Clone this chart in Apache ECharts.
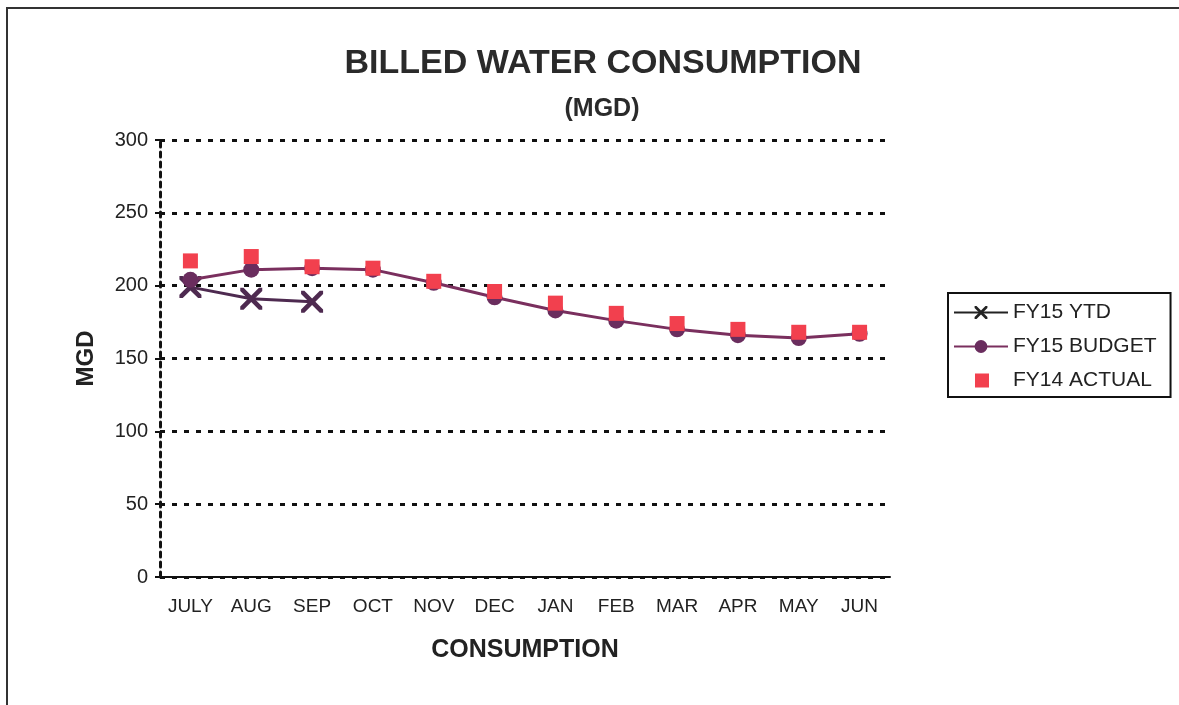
<!DOCTYPE html>
<html>
<head>
<meta charset="utf-8">
<title>Billed Water Consumption</title>
<script src="https://cdn.jsdelivr.net/npm/echarts@6/dist/echarts.min.js"></script>
<style>
  html, body { margin: 0; padding: 0; background: #fff; }
  #main { width: 1179px; height: 705px; }
</style>
</head>
<body>
<div id="main"></div>
<script>
// months on x axis
var months = ['JULY', 'AUG', 'SEP', 'OCT', 'NOV', 'DEC', 'JAN', 'FEB', 'MAR', 'APR', 'MAY', 'JUN'];
// values (MGD)
var fy15Ytd = [199, 191, 189];
var fy15Budget = [204, 211, 212, 211, 202, 192, 183, 176, 170, 166, 164, 167];
var fy14Actual = [217, 220, 213, 212, 203, 196, 188, 181, 174, 170, 168, 168];
var yTicks = [0, 50, 100, 150, 200, 250, 300];

var xMark = 'path://M0,0 L3,0 L10,7 L17,0 L20,0 L20,3 L13,10 L20,17 L20,20 L17,20 L10,13 L3,20 L0,20 L0,17 L7,10 L0,3 Z';
// small square in the middle of a wide legend slot
var sqIcon = 'path://M0,0 h0.01 v0.01 h-0.01 Z M20,1 h14 v14 h-14 Z M52,16 h0.01 v0.01 h-0.01 Z';
var font = 'Liberation Sans, Arial, sans-serif';

var chart = echarts.init(document.getElementById('main'));
chart.setOption({
  animation: false,
  backgroundColor: '#fff',
  textStyle: { fontFamily: font, color: '#222' },
  title: [{
    text: 'BILLED WATER CONSUMPTION',
    left: 598, top: 42, textAlign: 'center',
    textStyle: { fontFamily: font, fontSize: 34, fontWeight: 'bold', color: '#2a2a2a' }
  }, {
    text: '(MGD)',
    left: 597, top: 92, textAlign: 'center',
    textStyle: { fontFamily: font, fontSize: 25, fontWeight: 'bold', color: '#2a2a2a' }
  }],
  legend: {
    orient: 'vertical',
    left: 948, top: 293,
    padding: [9, 14, 6, 5],
    itemGap: 13,
    itemWidth: 54, itemHeight: 16,
    borderColor: '#111', borderWidth: 2,
    textStyle: { fontFamily: font, fontSize: 21, lineHeight: 20, color: '#222' },
    data: [
      { name: 'FY15 YTD', itemStyle: { color: '#222' }, lineStyle: { color: '#222' } },
      { name: 'FY15 BUDGET' },
      { name: 'FY14 ACTUAL', icon: sqIcon }
    ]
  },
  grid: { left: 160, right: 289, top: 140, bottom: 128 },
  xAxis: {
    type: 'category',
    data: months,
    boundaryGap: true,
    name: 'CONSUMPTION',
    nameLocation: 'middle',
    nameGap: 61,
    nameTextStyle: { fontFamily: font, fontSize: 25, fontWeight: 'bold', color: '#222' },
    axisLine: { lineStyle: { color: '#111', width: 2 } },
    axisTick: { interval: 0, length: 6, lineStyle: { color: '#111', width: 2 } },
    axisLabel: { interval: 0, margin: 20, fontSize: 19, color: '#222', fontFamily: font }
  },
  yAxis: {
    type: 'value',
    min: yTicks[0], max: yTicks[yTicks.length - 1], interval: 50,
    name: 'MGD',
    nameLocation: 'middle',
    nameGap: 62,
    nameTextStyle: { fontFamily: font, fontSize: 24, fontWeight: 'bold', color: '#222' },
    axisLine: { show: true, lineStyle: { color: '#111', width: 3, type: [5, 5] } },
    axisTick: { show: true, length: 5, lineStyle: { color: '#111', width: 2 } },
    axisLabel: { margin: 12, fontSize: 20, color: '#222', fontFamily: font },
    splitLine: { lineStyle: { color: '#111', width: 3, type: [5, 7] } }
  },
  series: [{
    name: 'FY15 YTD',
    type: 'line',
    data: fy15Ytd,
    symbol: xMark,
    symbolSize: 22,
    itemStyle: { color: '#4e2a50' },
    lineStyle: { color: '#4e2a50', width: 3 },
    z: 2
  }, {
    name: 'FY15 BUDGET',
    type: 'line',
    data: fy15Budget,
    symbol: 'circle',
    symbolSize: 16,
    itemStyle: { color: '#6a2d5e' },
    lineStyle: { color: '#7a2f5e', width: 3 },
    z: 3
  }, {
    name: 'FY14 ACTUAL',
    type: 'scatter',
    data: fy14Actual,
    symbol: 'rect',
    symbolSize: 15,
    itemStyle: { color: '#f2404e', opacity: 1 },
    z: 4
  }],
  graphic: [{
    type: 'polyline',
    shape: { points: [[7, 705], [7, 8], [1179, 8]] },
    style: { stroke: '#333', lineWidth: 2, fill: null }
  }]
});
</script>
</body>
</html>
